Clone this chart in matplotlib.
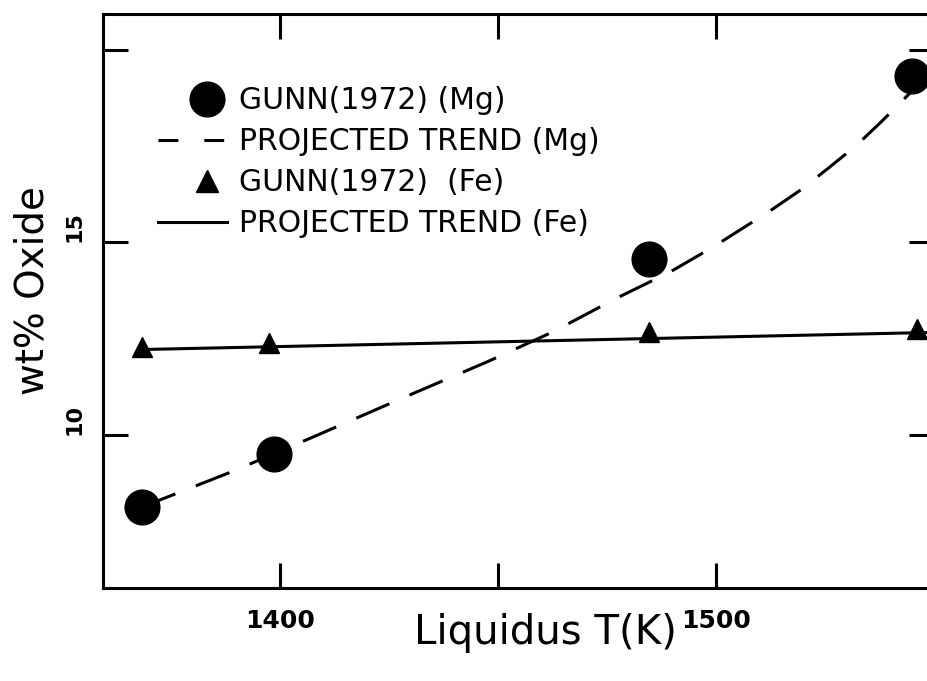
import numpy as np
import matplotlib
matplotlib.use('Agg')
import matplotlib.pyplot as plt
from matplotlib.lines import Line2D
from matplotlib.legend_handler import HandlerLine2D

# Gunn (1972) measurements
mg_T = [1368.3, 1398.6, 1484.6, 1545.0]
mg_wt = [8.13, 9.51, 14.58, 19.32]
fe_T = [1368.3, 1397.5, 1484.6, 1546.0]
fe_wt = [12.29, 12.39, 12.68, 12.75]

# projected trends
trend_mg_T = [1368.3, 1389.2, 1407.6, 1428.7, 1447.5, 1462.6, 1477.3,
              1489.4, 1499.3, 1512.4, 1519.5, 1526.1, 1532.0, 1537.6, 1544.5]
trend_mg_wt = [8.13, 9.06, 9.95, 10.99, 11.90, 12.68, 13.56,
               14.23, 14.88, 15.82, 16.37, 16.96, 17.50, 18.10, 18.88]
trend_fe_T = [1368.3, 1552.0]
trend_fe_wt = [12.22, 12.67]

legend_labels = ['GUNN(1972) (Mg)', 'PROJECTED TREND (Mg)',
                 'GUNN(1972)  (Fe)', 'PROJECTED TREND (Fe)']

plt.rcParams['font.family'] = 'DejaVu Sans'

fig = plt.figure(figsize=(9.27, 6.81), dpi=100)
ax = fig.add_axes([0.1111, 0.1366, 0.8965, 0.8428])

lw = 2.2
ax.plot(trend_mg_T, trend_mg_wt, color='black', lw=lw, linestyle=(0, (11.8, 7.2)), zorder=2)
ax.plot(trend_fe_T, trend_fe_wt, color='black', lw=lw, zorder=2)
ax.plot(mg_T, mg_wt, 'o', color='black', ms=25, zorder=3)
ax.plot(fe_T, fe_wt, '^', color='black', ms=15, zorder=3)

ax.set_xlim(1359.4, 1550)
ax.set_ylim(6.03, 20.93)

ax.set_xticks([1400, 1450, 1500], ['1400', '', '1500'])
ax.set_yticks([10, 15, 20], ['10', '15', ''])
ax.tick_params(direction='in', length=18, width=lw, top=True, right=True)
ax.tick_params(axis='x', labelsize=18, pad=15)
ax.tick_params(axis='y', labelsize=16, pad=13)
for t in ax.get_xticklabels():
    t.set_fontweight('bold')
for t in ax.get_yticklabels():
    t.set_fontweight('bold')
    t.set_rotation(90)
    t.set_va('bottom')
for s in ax.spines.values():
    s.set_linewidth(lw)

ax.set_xlabel('Liquidus T(K)', fontsize=29)
ax.xaxis.set_label_coords(0.532, -0.043)
ax.set_ylabel('wt% Oxide', fontsize=28)
ax.yaxis.set_label_coords(-0.062, 0.519)


# markers sit towards the right end of the legend handle
class MarkerRight(HandlerLine2D):
    def get_xdata(self, legend, xdescent, ydescent, width, height, fontsize):
        xdata = np.array([0.42 * width - xdescent, width - xdescent])
        return xdata, np.array([0.71 * width - xdescent])


handles = [
    Line2D([], [], marker='o', color='black', ls='none', ms=25),
    Line2D([], [], color='black', lw=lw, linestyle=(0, (6.5, 8.5))),
    Line2D([], [], marker='^', color='black', ls='none', ms=16),
    Line2D([], [], color='black', lw=lw),
]
ax.legend(handles, legend_labels, loc='upper left', bbox_to_anchor=(0.066, 0.874),
          frameon=False, fontsize=21.5, handlelength=2.3, handletextpad=0.42,
          labelspacing=0.40, borderpad=0, borderaxespad=0, numpoints=1,
          handler_map={handles[0]: MarkerRight(), handles[2]: MarkerRight()})

fig.savefig('out.png', dpi=100)
